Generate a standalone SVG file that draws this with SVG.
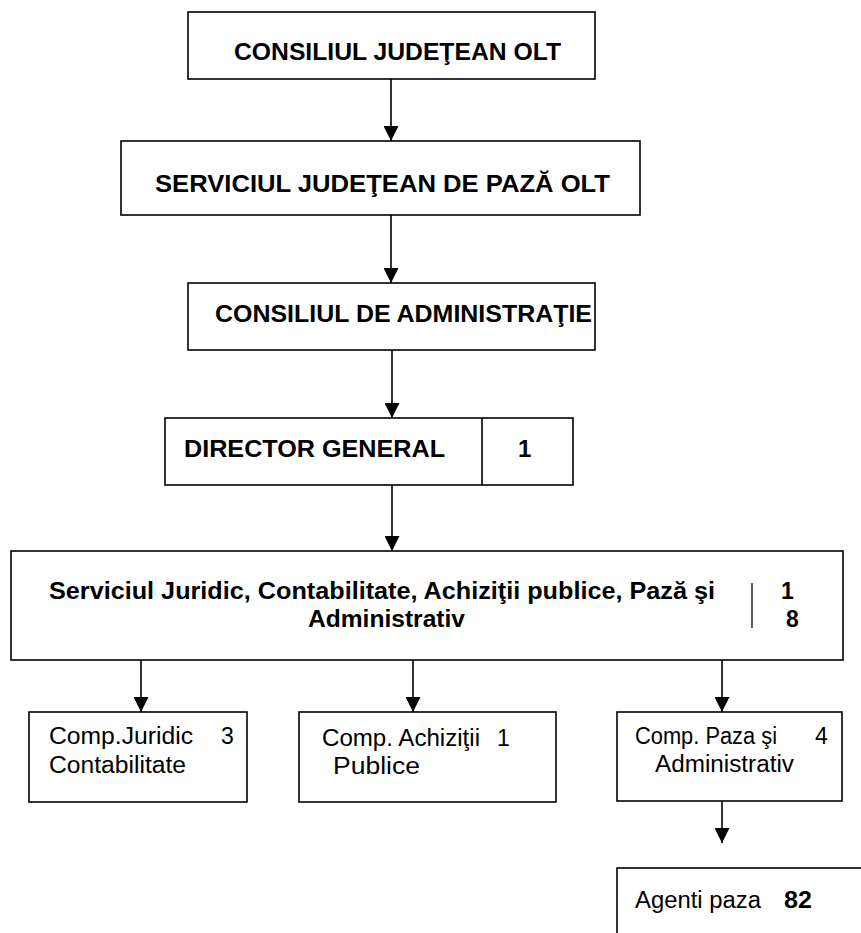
<svg xmlns="http://www.w3.org/2000/svg" width="861" height="933" viewBox="0 0 861 933">
<style>
.box{fill:#fff;stroke:#000;stroke-width:1.6}
.t{font-family:"Liberation Sans",Arial,sans-serif;fill:#000}
.b{font-weight:bold}
.big{font-size:24px}
.mid{font-size:23px}
.con line{stroke:#000;stroke-width:1.6}
</style>
<defs>
<marker id="ah" markerUnits="userSpaceOnUse" markerWidth="16" markerHeight="15" viewBox="0 0 16 15" refX="15" refY="7.5" orient="auto">
<path d="M0,0 L15,7.5 L0,15 Z" fill="#000"/>
</marker>
</defs>
<rect width="861" height="933" fill="#fff"/>
<g class="con">
<line x1="391" y1="79" x2="391" y2="141" marker-end="url(#ah)"/>
<line x1="391" y1="215" x2="391" y2="283" marker-end="url(#ah)"/>
<line x1="392" y1="350" x2="392" y2="418" marker-end="url(#ah)"/>
<line x1="392" y1="485" x2="392" y2="551" marker-end="url(#ah)"/>
<line x1="141" y1="660" x2="141" y2="712" marker-end="url(#ah)"/>
<line x1="413" y1="660" x2="413" y2="712" marker-end="url(#ah)"/>
<line x1="722" y1="660" x2="722" y2="712" marker-end="url(#ah)"/>
<line x1="722" y1="801" x2="722" y2="843" marker-end="url(#ah)"/>
</g>
<g id="consiliul-judetean">
<rect class="box" x="188" y="12" width="407" height="67"/>
<text class="t b big" x="234" y="60" textLength="327" lengthAdjust="spacingAndGlyphs">CONSILIUL JUDEŢEAN OLT</text>
</g>
<g id="serviciul-judetean">
<rect class="box" x="121" y="141" width="519" height="74"/>
<text class="t b big" x="155" y="192" textLength="455" lengthAdjust="spacingAndGlyphs">SERVICIUL JUDEŢEAN DE PAZĂ OLT</text>
</g>
<g id="consiliul-administratie">
<rect class="box" x="188" y="283" width="407" height="67"/>
<text class="t b big" x="215" y="322" textLength="377" lengthAdjust="spacingAndGlyphs">CONSILIUL DE ADMINISTRAŢIE</text>
</g>
<g id="director-general">
<rect class="box" x="165" y="418" width="408" height="67"/>
<line x1="482" y1="418" x2="482" y2="485" stroke="#000" stroke-width="1.6"/>
<text class="t b big" x="184" y="457" textLength="261" lengthAdjust="spacingAndGlyphs">DIRECTOR GENERAL</text>
<text class="t b big" x="518" y="457">1</text>
</g>
<g id="serviciul-juridic">
<rect class="box" x="11" y="551" width="832" height="109"/>
<text class="t b mid" x="49" y="599" textLength="666" lengthAdjust="spacingAndGlyphs">Serviciul Juridic,  Contabilitate, Achiziţii publice, Pază şi</text>
<text class="t b mid" x="308" y="627" textLength="157" lengthAdjust="spacingAndGlyphs">Administrativ</text>
<line x1="752" y1="583" x2="752" y2="628" stroke="#000" stroke-width="1.3"/>
<text class="t b mid" x="781" y="599">1</text>
<text class="t b mid" x="786" y="627">8</text>
</g>
<g id="comp-juridic">
<rect class="box" x="29" y="712" width="218" height="90"/>
<text class="t mid" x="49" y="744" textLength="144" lengthAdjust="spacingAndGlyphs">Comp.Juridic</text>
<text class="t mid" x="221" y="744">3</text>
<text class="t mid" x="49" y="773" textLength="137" lengthAdjust="spacingAndGlyphs">Contabilitate</text>
</g>
<g id="comp-achizitii">
<rect class="box" x="299" y="712" width="257" height="90"/>
<text class="t mid" x="322" y="746" textLength="158" lengthAdjust="spacingAndGlyphs">Comp. Achiziţii</text>
<text class="t mid" x="497" y="746">1</text>
<text class="t mid" x="333" y="774" textLength="87" lengthAdjust="spacingAndGlyphs">Publice</text>
</g>
<g id="comp-paza">
<rect class="box" x="617" y="712" width="225" height="89"/>
<text class="t mid" x="635" y="744" textLength="142" lengthAdjust="spacingAndGlyphs">Comp. Paza şi</text>
<text class="t mid" x="815" y="744">4</text>
<text class="t mid" x="655" y="772" textLength="139" lengthAdjust="spacingAndGlyphs">Administrativ</text>
</g>
<g id="agenti-paza">
<rect class="box" x="617" y="868" width="260" height="80"/>
<text class="t mid" x="635" y="908" textLength="126" lengthAdjust="spacingAndGlyphs">Agenti paza</text>
<text class="t b mid" x="784" y="908" textLength="28" lengthAdjust="spacingAndGlyphs">82</text>
</g>
</svg>
